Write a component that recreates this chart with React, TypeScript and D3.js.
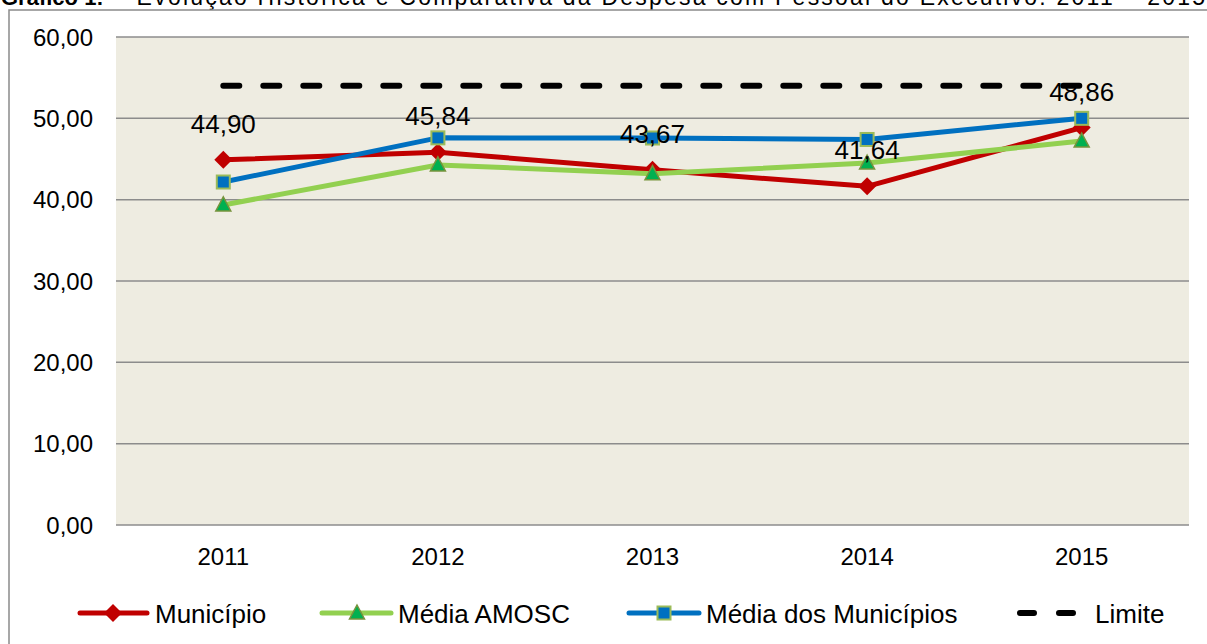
import React, { useEffect, useRef } from 'react';
import * as d3 from 'd3';

const years = ['2011', '2012', '2013', '2014', '2015'];
const municipio = [44.9, 45.84, 43.67, 41.64, 48.86];
const mediaAmosc = [39.35, 44.27, 43.2, 44.5, 47.2];
const mediaMunicipios = [42.17, 47.6, 47.58, 47.4, 50.0];
const limite = [54, 54, 54, 54, 54];
const yTicks = [0, 10, 20, 30, 40, 50, 60];

const RED = '#C00000';
const GREEN = '#92D050';
const BLUE = '#0070C0';

const fmt = (v: number) => v.toFixed(2).replace('.', ',');

export default function App() {
  const svgRef = useRef<SVGSVGElement>(null);

  useEffect(() => {
    document.body.style.margin = '0';
    if (!svgRef.current) return;
    const width = 1207;
    const height = 644;
    const plot = { left: 116, right: 1189, top: 37, bottom: 525 };
    const font = 'Liberation Sans, Arial, sans-serif';

    const svg = d3.select(svgRef.current)
      .attr('width', width)
      .attr('height', height)
      .attr('viewBox', `0 0 ${width} ${height}`);
    svg.selectAll('*').remove();

    const x = d3.scaleBand().domain(years).range([plot.left, plot.right]);
    const cx = (d: string) => x(d)! + x.bandwidth() / 2;
    const y = d3.scaleLinear().domain([0, 60]).range([plot.bottom, plot.top]);

    // Title (cut at the top of the image, as in the source document)
    svg.append('text')
      .attr('x', 1).attr('y', 5)
      .attr('font-family', font).attr('font-size', 22).attr('font-weight', 'bold').attr('fill', '#000')
      .text('Gráfico 1:');
    svg.append('text')
      .attr('x', 113).attr('y', 5)
      .attr('font-family', font).attr('font-size', 23).attr('fill', '#000')
      .attr('textLength', 1092).attr('lengthAdjust', 'spacing')
      .text('– Evolução Histórica e Comparativa da Despesa com Pessoal do Executivo: 2011 – 2015');

    // Outer frame
    svg.append('rect')
      .attr('x', 9).attr('y', 10)
      .attr('width', 1220).attr('height', 640)
      .attr('fill', 'white')
      .attr('stroke', '#8A8A8A').attr('stroke-width', 1.5);

    // Plot background
    svg.append('rect')
      .attr('x', plot.left).attr('y', plot.top)
      .attr('width', plot.right - plot.left).attr('height', plot.bottom - plot.top)
      .attr('fill', '#EEECE1');

    // Grid lines + y labels
    svg.append('g').selectAll('line').data(yTicks).enter().append('line')
      .attr('x1', plot.left).attr('x2', plot.right)
      .attr('y1', d => y(d)).attr('y2', d => y(d))
      .attr('stroke', '#8C8C8C').attr('stroke-width', 1.5);

    svg.append('g').selectAll('text').data(yTicks).enter().append('text')
      .attr('x', 93).attr('y', d => y(d) + 8.5)
      .attr('text-anchor', 'end')
      .attr('font-family', font).attr('font-size', 24).attr('fill', '#000')
      .text(d => fmt(d));

    svg.append('g').selectAll('text').data(years).enter().append('text')
      .attr('x', d => cx(d)).attr('y', 565)
      .attr('text-anchor', 'middle')
      .attr('font-family', font).attr('font-size', 24).attr('fill', '#000')
      .text(d => d);

    const line = d3.line<number>()
      .x((_, i) => cx(years[i]))
      .y(d => y(d));

    const diamond = (g: any, px: number, py: number) => g.append('path')
      .attr('d', `M${px},${py - 9}L${px + 9},${py}L${px},${py + 9}L${px - 9},${py}Z`)
      .attr('fill', RED);
    const triangle = (g: any, px: number, py: number) => g.append('path')
      .attr('d', `M${px},${py - 8}L${px + 7.5},${py + 6}L${px - 7.5},${py + 6}Z`)
      .attr('fill', '#00B050').attr('stroke', '#77933C').attr('stroke-width', 1.5);
    const square = (g: any, px: number, py: number) => g.append('rect')
      .attr('x', px - 6.5).attr('y', py - 6.5).attr('width', 13).attr('height', 13)
      .attr('fill', BLUE).attr('stroke', '#9BBB59').attr('stroke-width', 2);

    const series = [
      { data: municipio, color: RED, marker: diamond },
      { data: mediaAmosc, color: GREEN, marker: triangle },
      { data: mediaMunicipios, color: BLUE, marker: square },
    ];

    series.forEach(s => {
      const g = svg.append('g');
      g.append('path')
        .attr('d', line(s.data)!)
        .attr('fill', 'none').attr('stroke', s.color)
        .attr('stroke-width', 5).attr('stroke-linejoin', 'round');
      s.data.forEach((v, i) => s.marker(g, cx(years[i]), y(v)));
    });

    // Data labels for Município
    svg.append('g').selectAll('text').data(municipio).enter().append('text')
      .attr('x', (_, i) => cx(years[i])).attr('y', d => y(d) - 27)
      .attr('text-anchor', 'middle')
      .attr('font-family', font).attr('font-size', 26).attr('fill', '#000')
      .text(d => fmt(d));

    // Limite
    svg.append('path')
      .attr('d', line(limite)!)
      .attr('fill', 'none').attr('stroke', '#000')
      .attr('stroke-width', 6).attr('stroke-linecap', 'round')
      .attr('stroke-dasharray', '16,24');

    // Legend
    const ly = 613;
    const lg = svg.append('g');
    const legendText = (tx: number, t: string) => lg.append('text')
      .attr('x', tx).attr('y', ly + 9.5)
      .attr('font-family', font).attr('font-size', 26).attr('fill', '#000')
      .text(t);
    const legendLine = (x1: number, x2: number, c: string) => lg.append('line')
      .attr('x1', x1).attr('x2', x2).attr('y1', ly).attr('y2', ly)
      .attr('stroke', c).attr('stroke-width', 5).attr('stroke-linecap', 'round');

    legendLine(80, 147, RED); diamond(lg, 113, ly); legendText(155, 'Município');
    legendLine(322, 391, GREEN); triangle(lg, 357, ly); legendText(398, 'Média AMOSC');
    legendLine(629, 699, BLUE); square(lg, 664, ly); legendText(706, 'Média dos Municípios');
    lg.append('line')
      .attr('x1', 1020).attr('x2', 1076).attr('y1', ly).attr('y2', ly)
      .attr('stroke', '#000').attr('stroke-width', 6).attr('stroke-linecap', 'round')
      .attr('stroke-dasharray', '14,25');
    legendText(1095, 'Limite');
  }, []);

  return <svg ref={svgRef} style={{ display: 'block' }} />;
}
